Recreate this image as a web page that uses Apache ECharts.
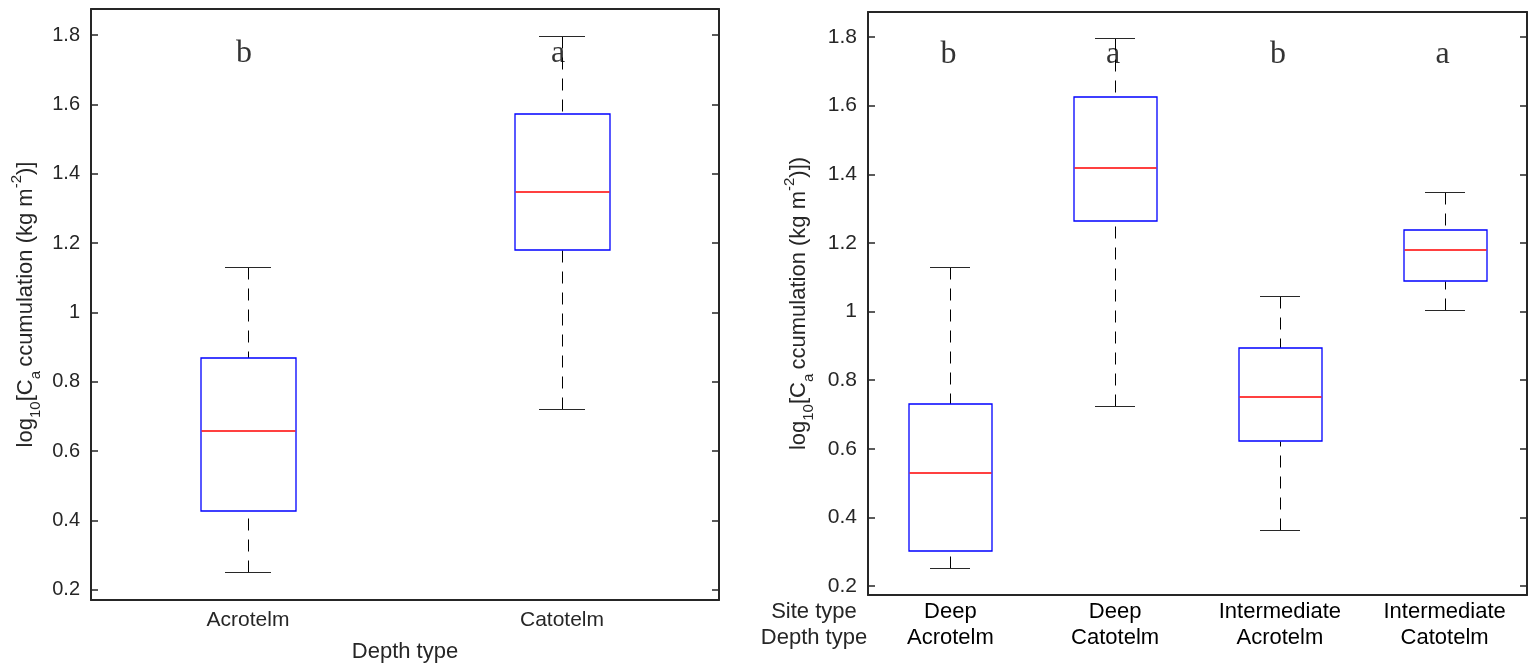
<!DOCTYPE html>
<html><head><meta charset="utf-8">
<script src="https://cdn.jsdelivr.net/npm/echarts@6/dist/echarts.min.js"></script>
<style>html,body{margin:0;padding:0;background:#fff}#c{width:1538px;height:670px}</style>
</head><body><div id="c"></div>
<script>
// ---- Left panel data ----
const leftCategories = ['Acrotelm', 'Catotelm'];
const leftLow    = [0.252, 0.722];
const leftQ1     = [0.428, 1.180];
const leftMedian = [0.658, 1.347];
const leftQ3     = [0.869, 1.572];
const leftHigh   = [1.131, 1.797];
const leftLetters = ['b', 'a'];

// ---- Right panel data ----
const siteTypes  = ['Deep', 'Deep', 'Intermediate', 'Intermediate'];
const depthTypes = ['Acrotelm', 'Catotelm', 'Acrotelm', 'Catotelm'];
const rightLow    = [0.252, 0.725, 0.363, 1.004];
const rightQ1     = [0.302, 1.264, 0.623, 1.089];
const rightMedian = [0.529, 1.418, 0.751, 1.179];
const rightQ3     = [0.730, 1.625, 0.894, 1.238];
const rightHigh   = [1.130, 1.797, 1.045, 1.348];
const rightLetters = ['b', 'a', 'b', 'a'];

const rightCategories = siteTypes.map((s, i) => s + '\n' + depthTypes[i]);

const FONT = 'Liberation Sans, Arial, Helvetica, sans-serif';
const SERIF = 'Liberation Serif, Times New Roman, serif';
const AX = '#262626';

function boxData(lo, q1, md, q3, hi) {
  return lo.map((v, i) => [i, lo[i], q1[i], md[i], q3[i], hi[i]]);
}
const crisp = v => Math.round(v) + 0.5;

function boxRender(boxFrac, capFrac) {
  return function (params, api) {
    const i = api.value(0);
    const lo = api.coord([i, api.value(1)]);
    const q1 = api.coord([i, api.value(2)]);
    const md = api.coord([i, api.value(3)]);
    const q3 = api.coord([i, api.value(4)]);
    const hi = api.coord([i, api.value(5)]);
    const bw = api.size([1, 0])[0];
    const half = bw * boxFrac / 2, capHalf = bw * capFrac / 2;
    const x = crisp(lo[0]);
    const yLo = crisp(lo[1]), yQ1 = crisp(q1[1]), yQ3 = crisp(q3[1]), yHi = crisp(hi[1]);
    const bl = Math.round(x - half), br = Math.round(x + half);
    const bt = Math.round(q3[1]), bb = Math.round(q1[1]);
    const yMd = Math.round(md[1]);
    return {
      type: 'group',
      children: [
        { type: 'line', shape: { x1: x, y1: yLo, x2: x, y2: yQ1 }, style: { stroke: '#000', fill: 'none', lineWidth: 1, lineDash: [12, 9] } },
        { type: 'line', shape: { x1: x, y1: yHi, x2: x, y2: yQ3 }, style: { stroke: '#000', fill: 'none', lineWidth: 1, lineDash: [12, 9] } },
        { type: 'rect', shape: { x: Math.round(x - capHalf), y: Math.round(lo[1]), width: Math.round(2 * capHalf), height: 1 }, style: { fill: 'rgb(40,40,40)', stroke: 'none' } },
        { type: 'rect', shape: { x: Math.round(x - capHalf), y: Math.round(hi[1]), width: Math.round(2 * capHalf), height: 1 }, style: { fill: 'rgb(40,40,40)', stroke: 'none' } },
        { type: 'rect', shape: { x: bl, y: bt, width: br - bl, height: bb - bt }, style: { fill: '#ffffff', stroke: '#0000ff', lineWidth: 1.3 } },
        { type: 'rect', shape: { x: bl + 0.6, y: yMd - 0.7, width: br - bl - 1.2, height: 1.4 }, style: { fill: '#ff0000', stroke: 'none' } }
      ]
    };
  };
}

function yNameRich(size, sub) {
  return {
    t: { fontSize: size, color: AX, fontFamily: FONT, lineHeight: size + 12 },
    sub: { fontSize: sub, color: AX, fontFamily: FONT, lineHeight: sub, verticalAlign: 'bottom' },
    sup: { fontSize: sub, color: AX, fontFamily: FONT, lineHeight: sub, verticalAlign: 'top' }
  };
}

function yAxes(grid, min, max, nameText, gap, labelSize) {
  const base = {
    gridIndex: grid, type: 'value', min: min, max: max, splitNumber: 8,
    splitLine: { show: false },
    axisLine: { show: true, lineStyle: { color: AX, width: 2 } },
    axisTick: { show: true, inside: true, length: 7, lineStyle: { color: AX, width: 1.5 } }
  };
  return [
    Object.assign({}, base, {
      position: 'left',
      axisLabel: { show: true, fontSize: labelSize, color: AX, fontFamily: FONT, margin: 11, showMinLabel: false, showMaxLabel: false },
      name: nameText, nameLocation: 'middle', nameGap: gap,
      nameTextStyle: { rich: yNameRich(22, 15) }
    }),
    Object.assign({}, base, { position: 'right', axisLabel: { show: false } })
  ];
}

const chart = echarts.init(document.getElementById('c'), null, { renderer: 'canvas' });

const option = {
  animation: false,
  backgroundColor: '#fff',
  grid: [
    { left: 91, top: 9, width: 628, height: 591 },
    { left: 868, top: 12, width: 659, height: 583 }
  ],
  xAxis: [
    {
      gridIndex: 0, type: 'category', data: leftCategories, position: 'bottom',
      axisLine: { lineStyle: { color: AX, width: 2 } },
      axisTick: { inside: true, alignWithLabel: true, length: 7, lineStyle: { color: AX, width: 1.5 } },
      axisLabel: { fontSize: 21, color: AX, fontFamily: FONT, margin: 10 },
      name: 'Depth type', nameLocation: 'middle', nameGap: 41,
      nameTextStyle: { fontSize: 22, color: AX, fontFamily: FONT }
    },
    {
      gridIndex: 0, type: 'category', data: leftCategories, position: 'top',
      axisLine: { lineStyle: { color: AX, width: 2 } },
      axisTick: { inside: true, alignWithLabel: true, length: 7, lineStyle: { color: AX, width: 1.5 } },
      axisLabel: { show: false }
    },
    {
      gridIndex: 1, type: 'category', data: rightCategories, position: 'bottom',
      axisLine: { lineStyle: { color: AX, width: 2 } },
      axisTick: { show: false },
      axisLabel: { fontSize: 22, color: '#000', fontFamily: FONT, margin: 4, lineHeight: 26 }
    },
    {
      gridIndex: 1, type: 'category', data: rightCategories, position: 'top',
      axisLine: { lineStyle: { color: AX, width: 2 } },
      axisTick: { show: false },
      axisLabel: { show: false }
    }
  ],
  yAxis: [].concat(
    yAxes(0, 0.171, 1.875, '{t|log}{sub|10}{t|[C}{sub|a }{t|ccumulation (kg m}{sup|-2}{t|)]}', 48, 20),
    yAxes(1, 0.174, 1.873, '{t|log}{sub|10}{t|[C}{sub|a }{t|ccumulation (kg m}{sup|-2}{t|)])}', 52, 21)
  ),
  graphic: [
    {
      type: 'text', x: 814, y: 599,
      style: {
        text: 'Site type\nDepth type', font: '22px ' + FONT, fill: AX,
        align: 'center', textAlign: 'center', verticalAlign: 'top', lineHeight: 26
      }
    }
  ],
  series: [
    {
      type: 'custom', xAxisIndex: 0, yAxisIndex: 0,
      renderItem: boxRender(0.30, 0.147),
      encode: { x: 0, y: [1, 2, 3, 4, 5] },
      data: boxData(leftLow, leftQ1, leftMedian, leftQ3, leftHigh),
      silent: true, z: 2
    },
    {
      type: 'custom', xAxisIndex: 2, yAxisIndex: 2,
      renderItem: boxRender(0.50, 0.243),
      encode: { x: 0, y: [1, 2, 3, 4, 5] },
      data: boxData(rightLow, rightQ1, rightMedian, rightQ3, rightHigh),
      silent: true, z: 2
    },
    {
      type: 'scatter', xAxisIndex: 0, yAxisIndex: 0, symbolSize: 0, silent: true, z: 5,
      data: leftLetters.map((l, i) => [i, 1.745]),
      label: {
        show: true, position: 'inside', offset: [-4, 0], formatter: p => leftLetters[p.dataIndex],
        fontFamily: SERIF, fontSize: 32, color: '#000'
      }
    },
    {
      type: 'scatter', xAxisIndex: 2, yAxisIndex: 2, symbolSize: 0, silent: true, z: 5,
      data: rightLetters.map((l, i) => [i, 1.75]),
      label: {
        show: true, position: 'inside', offset: [-2, 0], formatter: p => rightLetters[p.dataIndex],
        fontFamily: SERIF, fontSize: 32, color: '#000'
      }
    }
  ]
};
chart.setOption(option);
</script>
</body></html>
